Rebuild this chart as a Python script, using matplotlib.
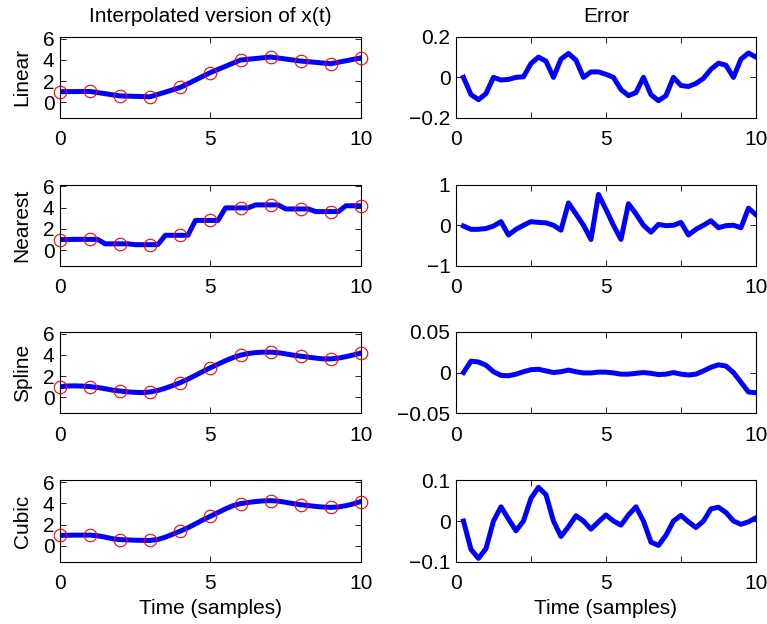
import numpy as np
import matplotlib
matplotlib.use("Agg")
import matplotlib.pyplot as plt

plt.rcParams['font.family'] = ['Liberation Sans', 'DejaVu Sans']
plt.rcParams['axes.unicode_minus'] = True

# -- data --
t_samp = np.arange(0, 11)
x_samp = [1.0, 1.02, 0.6, 0.52, 1.4, 2.8, 3.98, 4.26, 3.88, 3.63, 4.18]

t_fine = np.linspace(0, 10, 41)
t_err = t_fine[1:]

x_linear = x_samp
x_nearest = [1.0, 1.0, 1.02, 1.02, 1.02, 1.02, 0.6, 0.6, 0.6, 0.6,
             0.52, 0.52, 0.52, 0.52, 1.4, 1.4, 1.4, 1.4, 2.8, 2.8,
             2.8, 2.8, 3.98, 3.98, 3.98, 3.98, 4.26, 4.26, 4.26, 4.26,
             3.88, 3.88, 3.88, 3.88, 3.63, 3.63, 3.63, 3.63, 4.18, 4.18, 4.18]
x_spline = [1.0, 1.08, 1.09, 1.07, 1.02, 0.94, 0.82, 0.69, 0.6, 0.53,
            0.48, 0.46, 0.52, 0.66, 0.87, 1.12, 1.4, 1.72, 2.08, 2.45,
            2.8, 3.13, 3.46, 3.75, 3.98, 4.13, 4.22, 4.26, 4.26, 4.21,
            4.10, 3.98, 3.88, 3.79, 3.70, 3.63, 3.63, 3.70, 3.84, 4.00, 4.18]
x_cubic = [1.0, 1.01, 1.02, 1.02, 1.02, 0.96, 0.83, 0.68, 0.6, 0.57,
           0.54, 0.53, 0.52, 0.61, 0.83, 1.11, 1.4, 1.71, 2.08, 2.45,
           2.8, 3.14, 3.49, 3.79, 3.98, 4.09, 4.18, 4.24, 4.26, 4.22,
           4.11, 3.98, 3.88, 3.80, 3.72, 3.66, 3.63, 3.67, 3.79, 3.96, 4.18]

e_linear = [0, -0.085, -0.11, -0.08, 0, -0.013, -0.01, 0, 0.003, 0.068,
            0.1, 0.08, 0, 0.09, 0.118, 0.085, 0, 0.027, 0.027, 0.015,
            0, -0.06, -0.09, -0.075, 0, -0.085, -0.115, -0.09, 0, -0.04,
            -0.045, -0.03, -0.005, 0.04, 0.07, 0.06, 0, 0.09, 0.12, 0.1]
e_nearest = [-0.02, -0.1, -0.1, -0.08, -0.02, 0.09, -0.24, -0.1, 0, 0.09,
             0.07, 0.06, 0, -0.12, 0.55, 0.28, 0, -0.35, 0.76, 0.39,
             0, -0.35, 0.53, 0.28, 0, -0.17, 0.02, -0.01, 0, 0.07,
             -0.24, -0.1, 0, 0.11, -0.06, -0.01, 0, -0.06, 0.42, 0.26]
e_spline = [0, 0.014, 0.013, 0.009, 0.001, -0.0035, -0.004, -0.002, 0.001, 0.0035,
            0.004, 0.002, 0, 0.001, 0.003, 0.001, -0.0005, -0.0005, 0.0005, 0.0005,
            -0.0005, -0.002, -0.002, -0.001, 0, -0.001, -0.0025, -0.002, 0, -0.002,
            -0.003, -0.002, 0.002, 0.0065, 0.0095, 0.008, 0, -0.012, -0.024, -0.025]
e_cubic = [0, -0.07, -0.092, -0.068, 0, 0.035, 0.005, -0.024, 0, 0.056,
           0.083, 0.065, 0, -0.038, -0.014, 0.013, 0, -0.02, -0.002, 0.015,
           0, -0.01, 0.015, 0.035, 0, -0.052, -0.06, -0.035, 0, 0.014,
           -0.002, -0.016, 0, 0.03, 0.034, 0.021, 0, -0.008, -0.002, 0.008]

methods = ['Linear', 'Nearest', 'Spline', 'Cubic']
interp = [(t_samp, x_linear), (t_fine, x_nearest), (t_fine, x_spline), (t_fine, x_cubic)]
errors = [e_linear, e_nearest, e_spline, e_cubic]
err_lim = [0.2, 1, 0.05, 0.1]
err_lbl = [['\u22120.2', '0', '0.2'], ['\u22121', '0', '1'],
           ['\u22120.05', '0', '0.05'], ['\u22120.1', '0', '0.1']]

#
# -- figure --
#
fig = plt.figure(figsize=(7.67, 6.24), dpi=100)
bottoms = [0.811, 0.574, 0.338, 0.100]
h = 0.130
fs = 15

def style(ax):
  ax.tick_params(direction='in', top=True, right=True, length=4, width=0.6,
                 labelsize=fs)
  ax.tick_params(axis='x', pad=9)
  ax.tick_params(axis='y', pad=4)
  for s in ax.spines.values():
    s.set_linewidth(0.8)

for i in range(4):
  axL = fig.add_axes([0.0782, bottoms[i], 0.3924, h])
  tt, xx = interp[i]
  axL.plot(tt, xx, color='b', lw=3.6, solid_joinstyle='round', zorder=2)
  axL.plot(t_samp, x_samp, 'o', mfc='none', mec='r', ms=9, mew=0.8, zorder=3,
           clip_on=False)
  axL.set_xlim(0, 10); axL.set_ylim(-1.47, 6.16)
  axL.set_xticks([0, 5, 10]); axL.set_yticks([0, 2, 4, 6])
  axL.set_ylabel(methods[i], fontsize=fs, labelpad=8)
  style(axL)

  axR = fig.add_axes([0.5945, bottoms[i], 0.3911, h])
  axR.plot(t_err, errors[i], color='b', lw=3.6, solid_joinstyle='round')
  axR.set_xlim(0, 10); axR.set_ylim(-err_lim[i], err_lim[i])
  axR.set_xticks([0, 2.5, 5, 7.5, 10]); axR.set_xticklabels(['0', '', '5', '', '10'])
  axR.set_yticks([-err_lim[i], 0, err_lim[i]]); axR.set_yticklabels(err_lbl[i])
  style(axR)

  if i == 0:
    axL.set_title("Interpolated version of x(t)", fontsize=fs, pad=11)
    axR.set_title("Error", fontsize=fs, pad=11)
  if i == 3:
    axL.set_xlabel("Time (samples)", fontsize=fs, labelpad=4)
    axR.set_xlabel("Time (samples)", fontsize=fs, labelpad=4)

fig.savefig("out.png", dpi=100)
